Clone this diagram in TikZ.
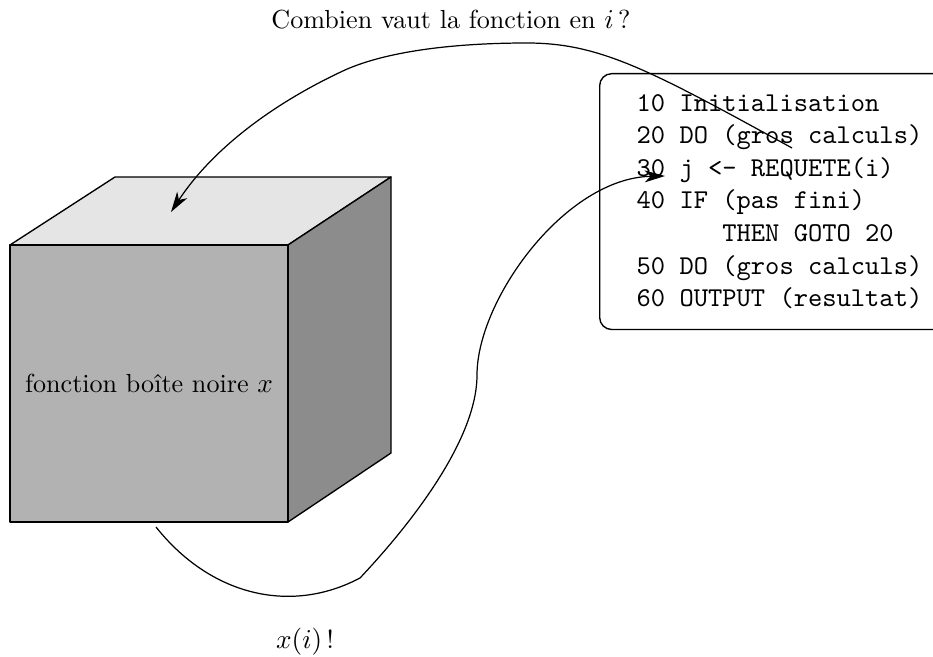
\documentclass[tikz,border=0pt]{standalone}
\usetikzlibrary{arrows.meta}
\tikzset{
  face/.style = {draw, line width=0.5pt, line join=round},
  topface/.append style = {face, fill=black!10},
  frontface/.append style = {face, fill=black!30},
  sideface/.append style = {face, fill=black!45},
  txt/.style = {font=\fontsize{9.6pt}{11.5pt}\selectfont},
  prog/.style = {
    draw,
    rounded corners=4.4pt,
    line width=0.5pt,
    font=\ttfamily,
    align=left,
    inner xsep=13.6pt,
    inner ysep=7.5pt
  },
  flow/.style = {->, line width=0.45pt},
  >={Stealth[length=7.5pt, width=4.4pt, inset=2.2pt]}
}

\begin{document}
\begin{tikzpicture}[x=0.3676pt, y=-0.3676pt]
  \useasboundingbox (0,0) rectangle (933,657);

  %% cube
  \coordinate (FTL) at (10,245);
  \coordinate (FTR) at (288,245);
  \coordinate (FBR) at (288,522);
  \coordinate (FBL) at (10,522);
  \coordinate (BTL) at (115,177);
  \coordinate (BTR) at (391,177);
  \coordinate (BBR) at (391,453);
  \draw[topface] (FTL) -- (BTL) -- (BTR) -- (FTR) -- cycle;
  \draw[sideface] (FTR) -- (BTR) -- (BBR) -- (FBR) -- cycle;
  \draw[frontface] (FTL) -- (FTR) -- (FBR) -- (FBL) -- cycle;

  %% nodes
  \node[txt] (BB) at (149,383) {fonction boîte noire $x$};
  \node[prog, anchor=north west] (PRG) at (599,73) {%
    10 Initialisation\\
    20 DO (gros calculs)\\
    30 j <- REQUETE(i)\\
    40 IF (pas fini)\\
    \hphantom{40 IF }THEN GOTO 20\\
    50 DO (gros calculs)\\
    60 OUTPUT (resultat)};
  \node[txt] (Q) at (451,20) {Combien vaut la fonction en $i$\,?};
  \node[txt] (A) at (305,642) {$x(i)$\,!};

  \coordinate (req) at (792,148);
  \coordinate (in)  at (171,212);
  \coordinate (out) at (156,527);
  \coordinate (ret) at (665,176);

  %% arrows
  \draw[flow] (req) .. controls (650,70) and (600,43) .. (527,43)
    .. controls (460,43) and (390,50) .. (345,70)
    .. controls (280,100) and (215,145) .. (in);
  \draw[flow] (out) .. controls (210,595) and (290,615) .. (360,578)
    .. controls (410,525) and (477,440) .. (477,375)
    .. controls (477,300) and (565,178) .. (ret);

\end{tikzpicture}
\end{document}
